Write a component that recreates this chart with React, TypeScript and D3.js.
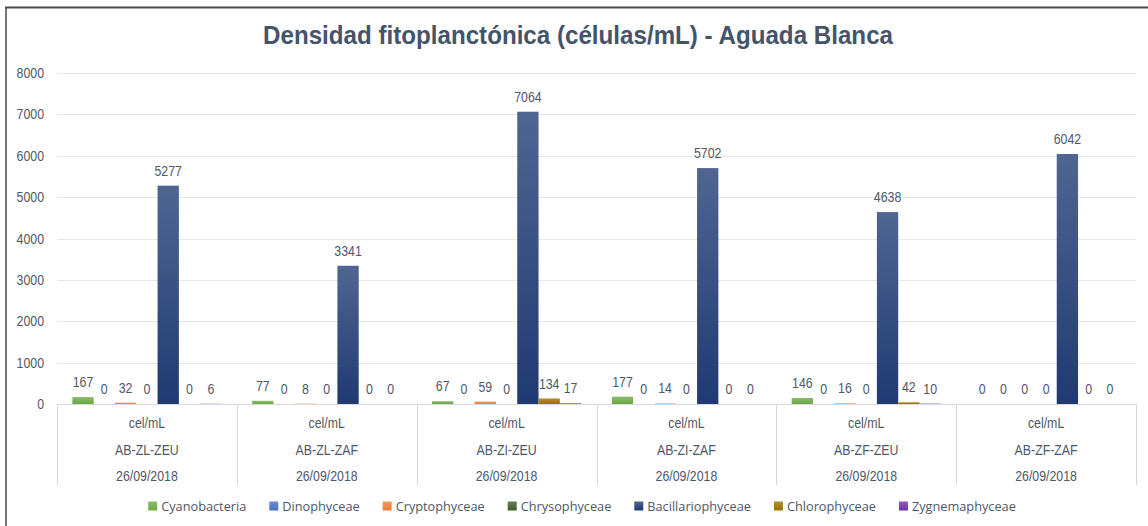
import React, { useEffect, useRef } from 'react';
import * as d3 from 'd3';

// --- chart data ---
const categories = ['AB-ZL-ZEU', 'AB-ZL-ZAF', 'AB-ZI-ZEU', 'AB-ZI-ZAF', 'AB-ZF-ZEU', 'AB-ZF-ZAF'];
const unitLabel = 'cel/mL';
const dateLabel = '26/09/2018';

const seriesNames = [
  'Cyanobacteria',
  'Dinophyceae',
  'Cryptophyceae',
  'Chrysophyceae',
  'Bacillariophyceae',
  'Chlorophyceae',
  'Zygnemaphyceae',
];
const cyanobacteria = [167, 77, 67, 177, 146, 0];
const dinophyceae = [0, 0, 0, 0, 0, 0];
const cryptophyceae = [32, 8, 59, 14, 16, 0];
const chrysophyceae = [0, 0, 0, 0, 0, 0];
const bacillariophyceae = [5277, 3341, 7064, 5702, 4638, 6042];
const chlorophyceae = [0, 0, 134, 0, 42, 0];
const zygnemaphyceae = [6, 0, 17, 0, 10, 0];
const seriesValues = [
  cyanobacteria,
  dinophyceae,
  cryptophyceae,
  chrysophyceae,
  bacillariophyceae,
  chlorophyceae,
  zygnemaphyceae,
];
const seriesColors = ['#6aa842', '#4472c4', '#ed7d31', '#3b5e25', '#1f3a72', '#9a6f00', '#7030a0'];
const yTicks = [0, 1000, 2000, 3000, 4000, 5000, 6000, 7000, 8000];

const title = 'Densidad fitoplanctónica (células/mL) - Aguada Blanca';

const W = 1148;
const H = 526;
const sans = "'Liberation Sans', Arial, sans-serif";
const textColor = '#4d5868';

// squeeze a text selection horizontally (stand-in for a narrow font)
function condense(sel: d3.Selection<any, any, any, any>, k: number) {
  sel.each(function () {
    const t = this as SVGTextElement;
    const w = t.getComputedTextLength();
    d3.select(t).attr('textLength', w * k).attr('lengthAdjust', 'spacingAndGlyphs');
  });
}

export default function App() {
  const svgRef = useRef<SVGSVGElement>(null);

  useEffect(() => {
    const svg = d3.select(svgRef.current);
    svg.selectAll('*').remove();

    // plot area
    const left = 57;
    const right = 1136;
    const top = 73;
    const bottom = 404;

    const y = d3.scaleLinear().domain([0, 8000]).range([bottom, top]);
    const x0 = d3.scaleBand<string>().domain(categories).range([left, right]).padding(0);
    const x1 = d3
      .scaleBand<string>()
      .domain(seriesNames)
      .range([0, x0.bandwidth()])
      .paddingInner(0)
      .paddingOuter(0.72);

    // outer chart border (top + left visible)
    svg.append('line').attr('x1', 5).attr('x2', W).attr('y1', 7.5).attr('y2', 7.5)
      .attr('stroke', '#4a4a4a').attr('stroke-width', 2);
    svg.append('line').attr('x1', 6).attr('x2', 6).attr('y1', 7).attr('y2', H)
      .attr('stroke', '#4a4a4a').attr('stroke-width', 1.5);

    // gradients, lighter at top
    const defs = svg.append('defs');
    seriesColors.forEach((c, i) => {
      const g = defs.append('linearGradient')
        .attr('id', `grad-${i}`)
        .attr('x1', 0).attr('y1', 0).attr('x2', 0).attr('y2', 1);
      const light = d3.interpolateRgb(c, '#ffffff')(0.22);
      g.append('stop').attr('offset', '0%').attr('stop-color', light);
      g.append('stop').attr('offset', '100%').attr('stop-color', c);
    });

    // title
    svg.append('text')
      .attr('x', 578).attr('y', 44)
      .attr('text-anchor', 'middle')
      .attr('font-family', sans)
      .attr('font-weight', 'bold')
      .attr('font-size', 26)
      .attr('fill', '#44546a')
      .attr('textLength', 630)
      .attr('lengthAdjust', 'spacingAndGlyphs')
      .text(title);

    // gridlines + y tick labels
    svg.append('g').selectAll('line').data(yTicks).join('line')
      .attr('x1', left).attr('x2', right)
      .attr('y1', d => Math.round(y(d)) + 0.5).attr('y2', d => Math.round(y(d)) + 0.5)
      .attr('stroke', d => (d === 0 ? '#d9d9d9' : '#e3e8ef'))
      .attr('stroke-width', 1);

    const yLabels = svg.append('g').selectAll('text').data(yTicks).join('text')
      .attr('x', 44).attr('y', d => y(d))
      .attr('dy', '0.35em')
      .attr('text-anchor', 'end')
      .attr('font-family', sans)
      .attr('font-size', 14.5)
      .attr('fill', textColor)
      .text(d => String(d));
    condense(yLabels, 0.85);

    // category separators
    const seps = [...categories.map(c => x0(c) as number), right];
    svg.append('g').selectAll('line').data(seps).join('line')
      .attr('x1', d => Math.round(d) + 0.5).attr('x2', d => Math.round(d) + 0.5)
      .attr('y1', bottom).attr('y2', 485)
      .attr('stroke', '#d9d9d9');

    // category labels (3 rows)
    const cat = svg.append('g').selectAll('g').data(categories).join('g')
      .attr('transform', d => `translate(${(x0(d) as number) + x0.bandwidth() / 2},0)`);
    const rows: [number, (d: string) => string][] = [
      [423, () => unitLabel],
      [449.5, d => d],
      [476, () => dateLabel],
    ];
    rows.forEach(([ry, fn]) => {
      const t = cat.append('text')
        .attr('y', ry).attr('dy', '0.35em')
        .attr('text-anchor', 'middle')
        .attr('font-family', sans)
        .attr('font-size', 14.5)
        .attr('fill', textColor)
        .text(fn);
      condense(t, 0.85);
    });

    // bars + labels
    const groups = svg.append('g').selectAll('g').data(categories).join('g')
      .attr('transform', d => `translate(${x0(d)},0)`);

    groups.each(function (c, ci) {
      const g = d3.select(this);
      const pts = seriesNames.map((s, si) => ({ s, si, v: seriesValues[si][ci] }));
      g.selectAll('rect').data(pts).join('rect')
        .attr('x', d => x1(d.s) as number)
        .attr('width', x1.bandwidth())
        .attr('y', d => y(d.v))
        .attr('height', d => bottom - y(d.v))
        .attr('fill', d => `url(#grad-${d.si})`);
      const labels = g.selectAll('text').data(pts).join('text')
        .attr('x', d => (x1(d.s) as number) + x1.bandwidth() / 2)
        .attr('y', d => y(d.v) - 15)
        .attr('dy', '0.35em')
        .attr('text-anchor', 'middle')
        .attr('font-family', sans)
        .attr('font-size', 14.5)
        .attr('fill', textColor)
        .text(d => String(d.v));
      condense(labels, 0.85);
    });

    // legend, measured and centred
    const legend = svg.append('g');
    const items = legend.selectAll('g').data(seriesNames).join('g');
    items.append('rect')
      .attr('width', 9).attr('height', 9)
      .attr('y', 506 - 4.5)
      .attr('fill', (_, i) => `url(#grad-${i})`);
    const legendText = items.append('text')
      .attr('x', 13).attr('y', 506).attr('dy', '0.35em')
      .attr('font-family', "'Open Sans', 'Noto Sans', sans-serif")
      .attr('font-size', 13.5)
      .attr('fill', textColor)
      .text(d => d);
    condense(legendText, 0.943);
    const widths: number[] = [];
    items.each(function () {
      const t = d3.select(this).select('text').node() as SVGTextElement;
      const tl = Number(t.getAttribute('textLength')) || t.getComputedTextLength();
      widths.push(13 + tl);
    });
    const gap = 23;
    const total = d3.sum(widths) + gap * (widths.length - 1);
    let cx = 582 - total / 2;
    items.attr('transform', (_, i) => {
      const tx = cx;
      cx += widths[i] + gap;
      return `translate(${tx},0)`;
    });
  }, []);

  return (
    <svg
      ref={svgRef}
      width={W}
      height={H}
      style={{ position: 'absolute', left: 0, top: 0, background: '#ffffff' }}
    />
  );
}
